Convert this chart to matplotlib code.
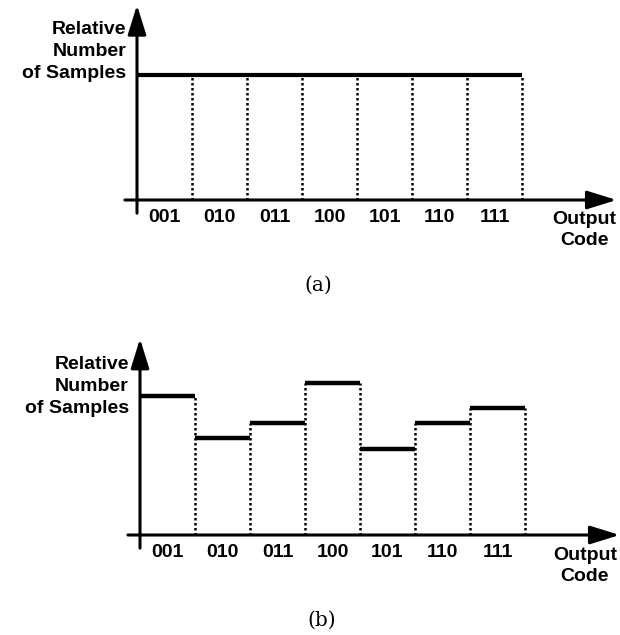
import numpy as np
from matplotlib import pyplot as plt

codes = ["001", "010", "011", "100", "101", "110", "111"]
# relative heights (ideal histogram = 1)
ideal = [1.0, 1.0, 1.0, 1.0, 1.0, 1.0, 1.0]
real = [1.11, 0.78, 0.90, 1.22, 0.69, 0.90, 1.02]

ylabel = "Relative\nNumber\nof Samples"
xlabel = "Output\nCode"

fig = plt.figure(figsize=(6.2, 6.35), dpi=100)

bold = dict(family="Liberation Sans", weight="bold", fontsize=14)


def draw_hist(ax, heights, joined, x0, ylab_y, xlab_y, top, tag_y, tag):
    n = len(heights)
    edges = np.arange(n + 1)
    centers = edges[:-1] + 0.5
    h = np.array(heights)

    # axes with arrow heads
    ax.annotate("", xy=(0, top), xytext=(0, -0.105),
                arrowprops=dict(arrowstyle="-|>,head_length=0.9,head_width=0.28",
                                mutation_scale=20, lw=2.2, color="black",
                                shrinkA=0, shrinkB=0))
    ax.annotate("", xy=(8.72, 0), xytext=(-0.22, 0),
                arrowprops=dict(arrowstyle="-|>,head_length=0.9,head_width=0.28",
                                mutation_scale=20, lw=2.2, color="black",
                                shrinkA=0, shrinkB=0))

    # tops of the bins
    if joined:
        ax.hlines(h[0], edges[0], edges[-1], color="black", lw=3)
        vtop = h
    else:
        ax.hlines(h, edges[:-1], edges[1:], color="black", lw=3.2)
        vtop = np.maximum(h, np.append(h[1:], 0))
    ax.vlines(edges[1:], 0, vtop, color="black", lw=1.8,
              linestyles=(0, (1.0, 1.0)))

    for c, s in zip(centers, codes):
        ax.text(c, -0.14, s, ha="center", va="center", **bold)

    ax.text(-0.2, ylab_y, ylabel, ha="right", va="center",
            linespacing=1.38, **bold)
    ax.text(x0, xlab_y, xlabel, ha="center", va="center",
            linespacing=1.3, **bold)
    ax.text(3.3, tag_y, tag, ha="center", va="center",
            family="DejaVu Serif", fontsize=14.5)


# panel (a): figure pixels 0..320
ax1 = fig.add_axes([0, 1 - 320 / 635, 1, 320 / 635])
ax1.set_xlim(-137 / 55, (620 - 137) / 55)
ax1.set_ylim((200 - 320) / 125, 200 / 125)
ax1.axis("off")
draw_hist(ax1, ideal, True, 8.14, 1.19, -0.24, 1.56, -0.68, "(a)")

# panel (b): figure pixels 320..635
ax2 = fig.add_axes([0, 0, 1, 315 / 635])
ax2.set_xlim(-140 / 55, (620 - 140) / 55)
ax2.set_ylim((535 - 635) / 125, (535 - 320) / 125)
ax2.axis("off")
draw_hist(ax2, real, False, 8.09, 1.19, -0.25, 1.57, -0.68, "(b)")

fig.savefig("out.png", dpi=100)
